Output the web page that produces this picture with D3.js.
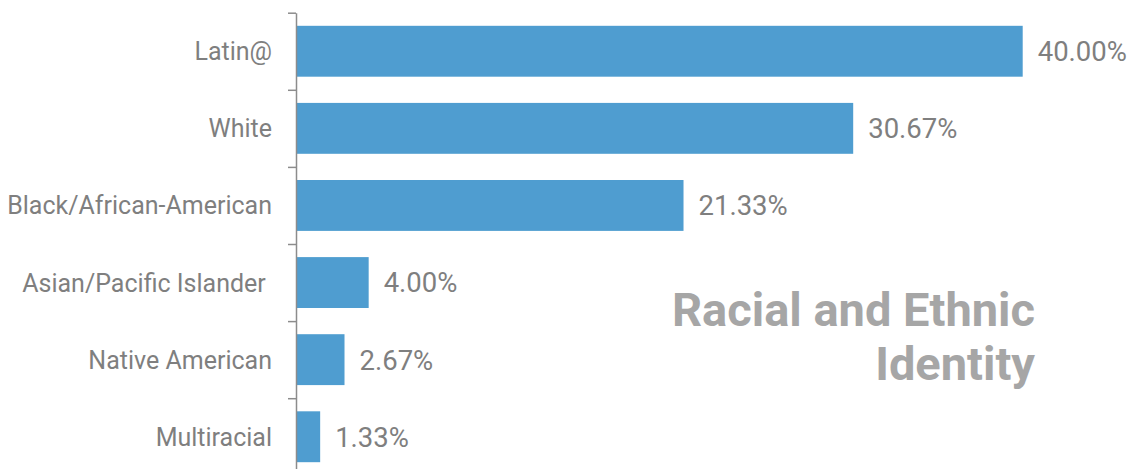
<!DOCTYPE html>
<html>
<head>
<meta charset="utf-8">
<script src="https://cdn.jsdelivr.net/npm/d3@7"></script>
<style>
  html, body { margin: 0; padding: 0; background: #fff; }
  svg { display: block; }
  text { font-family: Roboto, "Liberation Sans", sans-serif; }
</style>
</head>
<body>
<svg id="chart" width="1131" height="469"></svg>
<script>
const categories = ["Latin@", "White", "Black/African-American", "Asian/Pacific Islander ", "Native American", "Multiracial"];
const values = [40.00, 30.67, 21.33, 4.00, 2.67, 1.33];
const valueLabels = ["40.00%", "30.67%", "21.33%", "4.00%", "2.67%", "1.33%"];
const titleLines = ["Racial and Ethnic", "Identity"];

const svg = d3.select("#chart");
const axisX = 296, plotTop = 12.7, plotBottom = 475.3, plotRight = 1022.7;

const x = d3.scaleLinear().domain([0, 40]).range([axisX, plotRight]);
const y = d3.scaleBand().domain(categories).range([plotTop, plotBottom]).paddingInner(0.34).paddingOuter(0.17);
const yIdx = d3.scaleLinear().domain([0, categories.length]).range([plotTop, plotBottom]);

// bars
svg.selectAll("rect.bar").data(categories).join("rect")
  .attr("class", "bar")
  .attr("x", x(0))
  .attr("y", d => y(d))
  .attr("width", (d, i) => x(values[i]) - x(0))
  .attr("height", y.bandwidth())
  .attr("fill", "#4f9dd0");

// axis line with separator ticks
const ax = svg.append("g").attr("transform", `translate(${axisX},0)`)
  .call(d3.axisLeft(yIdx).tickValues(d3.range(0, categories.length + 1)).tickSize(8).tickSizeOuter(0).tickFormat(""));
ax.selectAll("path, line").attr("stroke", "#8c8c8c").attr("stroke-width", 1.5);

// category labels
const cat = svg.append("g").attr("transform", `translate(${axisX},0)`)
  .call(d3.axisLeft(y).tickSize(0).tickPadding(24));
cat.select(".domain").remove();
cat.selectAll("text")
  .attr("font-size", 25)
  .attr("font-family", "Roboto, 'Liberation Sans', sans-serif")
  .attr("fill", "#7f7f7f")
  .attr("dy", "0.36em")
  .style("white-space", "pre");

// value labels
svg.selectAll("text.val").data(categories).join("text")
  .attr("class", "val")
  .attr("x", (d, i) => x(values[i]) + 15)
  .attr("y", d => y(d) + y.bandwidth() / 2)
  .attr("dy", "0.36em")
  .attr("font-size", 27.5)
  .attr("fill", "#7f7f7f")
  .text((d, i) => valueLabels[i]);

// title
svg.selectAll("text.title").data(titleLines).join("text")
  .attr("class", "title")
  .attr("x", 1035)
  .attr("y", (d, i) => 326 + i * 54)
  .attr("text-anchor", "end")
  .attr("font-size", 47)
  .attr("font-weight", "bold")
  .attr("fill", "#a6a6a6")
  .text(d => d);
</script>
</body>
</html>
